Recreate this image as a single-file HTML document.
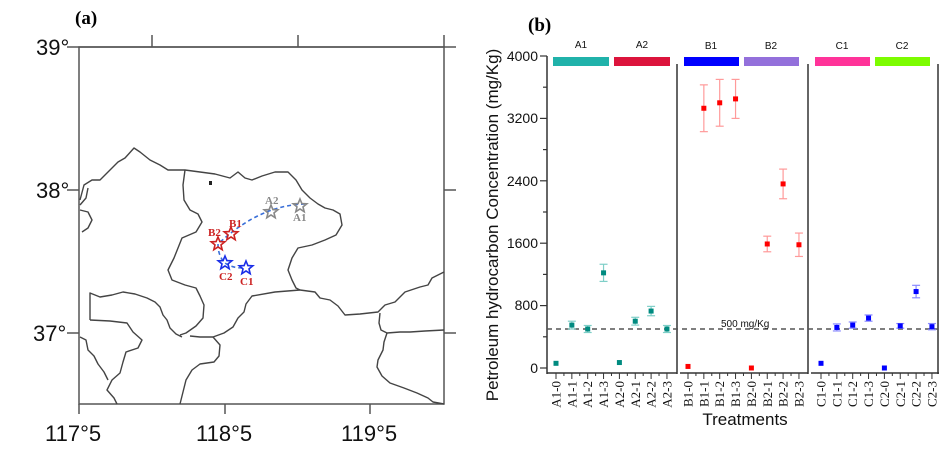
<!DOCTYPE html>
<html><head><meta charset="utf-8"><style>
html,body{margin:0;padding:0;background:#fff}
svg{display:block}
</style></head><body>
<svg width="945" height="456" viewBox="0 0 945 456" xmlns="http://www.w3.org/2000/svg" font-family="Liberation Sans, sans-serif">
<rect width="945" height="456" fill="#fff"/>
<!-- ===== Panel (a) ===== -->
<text x="75" y="24" font-family="Liberation Serif, serif" font-weight="bold" font-size="19">(a)</text>
<g stroke="#555" stroke-width="1.5" fill="none">
<rect x="79" y="47" width="365" height="357"/>
<line x1="67" y1="47" x2="456" y2="47"/>
<line x1="67" y1="190" x2="79" y2="190"/><line x1="444" y1="190" x2="456" y2="190"/>
<line x1="67" y1="333" x2="79" y2="333"/><line x1="444" y1="333" x2="456" y2="333"/>
<line x1="152" y1="35" x2="152" y2="47"/><line x1="298" y1="35" x2="298" y2="47"/><line x1="444" y1="35" x2="444" y2="47"/>
<line x1="79" y1="404" x2="79" y2="414"/><line x1="225" y1="404" x2="225" y2="414"/><line x1="370" y1="404" x2="370" y2="414"/>
</g>
<g fill="#111" font-size="22">
<text x="36" y="55">39°</text><text x="36" y="198">38°</text><text x="33" y="341">37°</text>
<text x="45" y="441">117°5</text><text x="196" y="441">118°5</text><text x="341" y="441">119°5</text>
</g>
<g stroke="#444" stroke-width="1.4" fill="none" stroke-linejoin="round">
<polyline points="80,200 84,185 92,180 100,180 108,172 118,162 125,158 134,148 140,152 150,160 160,165 168,170 176,170 185,170 200,172 215,174 230,178 238,172 245,178 252,180 262,176 275,172 288,172 296,180 302,190 310,198 318,204 325,208 333,210 340,214 342,225 336,235 325,240 312,245 298,248 292,258 288,270 292,280 296,288 300,290 315,292 320,298 330,300 338,306 345,315 360,314 378,312 385,305 395,302 405,292 420,287 428,285 432,278 438,275 444,272"/>
<polyline points="185,170 183,185 184,200 190,210 198,214 202,222 196,232 182,238 178,248 174,258 168,270 172,280 185,285 196,288 200,296 204,305 203,318 196,326 186,333 180,335"/>
<polyline points="300,290 275,292 252,296 246,304 244,312 238,318 233,327 224,333 213,337 200,337 190,336"/>
<polyline points="80,205 86,198 88,188"/>
<polyline points="80,210 88,212 92,220 88,228 82,232"/>
<polyline points="90,320 90,293 100,297 112,295 123,292 135,294 147,298 155,302 160,307 163,315 167,320 170,328 176,334 182,337"/>
<polyline points="90,320 110,321 127,323 133,332 142,340 138,348 126,352 123,362 120,373 112,380 107,390 114,398 117,404"/>
<polyline points="80,337 86,340 88,350 94,356 98,364 104,372 108,380"/>
<polyline points="213,337 220,345 219,356 214,362 200,364 192,370 186,380 183,392 180,404"/>
<polyline points="380,313 379,323 381,330 387,333 400,332 410,332 425,331 444,330"/>
<polyline points="387,333 384,342 383,350 378,360 377,367 382,376 390,383 404,388 417,393 428,398 433,402 444,404"/>
</g>
<rect x="209" y="181" width="3" height="4" fill="#222"/>
<g stroke="#3a6fd8" stroke-width="1.6" fill="none" stroke-dasharray="4,3">
<path d="M305,204 Q260,205 218,244"/>
<path d="M218,244 Q218,256 225,263 Q232,268 243,268"/>
</g>
<defs>
<path id="st" d="M0,-7 L1.9,-2.4 L6.8,-2.2 L3,0.9 L4.2,5.7 L0,3 L-4.2,5.7 L-3,0.9 L-6.8,-2.2 L-1.9,-2.4 Z"/>
</defs>
<g fill="none" stroke-width="1.6">
<use href="#st" x="271" y="212" stroke="#888"/>
<use href="#st" x="300" y="206" stroke="#888"/>
<use href="#st" x="231" y="234" stroke="#cc2222"/>
<use href="#st" x="218" y="244" stroke="#cc2222"/>
<use href="#st" x="225" y="263" stroke="#1a2ee8"/>
<use href="#st" x="246" y="268" stroke="#1a2ee8"/>
</g>
<g font-family="Liberation Serif, serif" font-weight="bold" font-size="11">
<text x="265" y="204" fill="#888">A2</text><text x="293" y="221" fill="#888">A1</text>
<text x="229" y="227" fill="#cc2222">B1</text><text x="208" y="236" fill="#cc2222">B2</text>
<text x="219" y="280" fill="#cc2222">C2</text><text x="240" y="285" fill="#cc2222">C1</text>
</g>
<!-- ===== Panel (b) ===== -->
<text x="528" y="31" font-family="Liberation Serif, serif" font-weight="bold" font-size="19">(b)</text>
<g stroke="#333" stroke-width="1.5" fill="none">
<line x1="547" y1="56" x2="547" y2="374"/>
<line x1="547" y1="373" x2="677" y2="373"/>
<line x1="680" y1="373" x2="808" y2="373"/>
<line x1="811" y1="373" x2="939" y2="373"/>
<line x1="677" y1="64" x2="677" y2="374"/>
<line x1="808" y1="64" x2="808" y2="374"/>
<line x1="938" y1="64" x2="938" y2="374"/>
</g>
<g stroke="#333" stroke-width="1.2">
<line x1="540" y1="56" x2="547" y2="56"/><line x1="540" y1="118.4" x2="547" y2="118.4"/><line x1="540" y1="180.8" x2="547" y2="180.8"/><line x1="540" y1="243.2" x2="547" y2="243.2"/><line x1="540" y1="305.6" x2="547" y2="305.6"/><line x1="540" y1="368" x2="547" y2="368"/>
<line x1="543" y1="87.2" x2="547" y2="87.2"/><line x1="543" y1="149.6" x2="547" y2="149.6"/><line x1="543" y1="212" x2="547" y2="212"/><line x1="543" y1="274.4" x2="547" y2="274.4"/><line x1="543" y1="336.8" x2="547" y2="336.8"/>
</g>
<g font-size="14" fill="#111" text-anchor="end">
<text x="538" y="61">4000</text><text x="538" y="123">3200</text><text x="538" y="186">2400</text><text x="538" y="248">1600</text><text x="538" y="310">800</text><text x="538" y="373">0</text>
</g>
<text transform="translate(498,225) rotate(-90)" font-size="17" text-anchor="middle" fill="#111">Petroleum hydrocarbon Concentration (mg/Kg)</text>
<text x="745" y="425" font-size="17" text-anchor="middle" fill="#111">Treatments</text>
<rect x="553" y="57" width="56" height="9" fill="#20b2aa"/>
<rect x="614" y="57" width="56" height="9" fill="#dc143c"/>
<rect x="684" y="57" width="55" height="9" fill="#0000ff"/>
<rect x="744" y="57" width="55" height="9" fill="#9370db"/>
<rect x="815" y="57" width="55" height="9" fill="#ff3399"/>
<rect x="875" y="57" width="55" height="9" fill="#7cfc00"/>
<g font-size="10" fill="#111" text-anchor="middle">
<text x="581" y="48">A1</text><text x="642" y="48">A2</text><text x="711" y="49">B1</text><text x="771" y="49">B2</text><text x="842" y="49">C1</text><text x="902" y="49">C2</text>
</g>
<line x1="547" y1="329" x2="938" y2="329" stroke="#555" stroke-width="1.5" stroke-dasharray="5,4"/>
<text x="721" y="327" font-size="10" fill="#111">500 mg/Kg</text>
<g id="pts"></g>
<g id="xt" stroke="#333" stroke-width="1"></g>
<g id="xl" font-family="Liberation Serif, serif" font-size="13" fill="#111"></g>
<script>
(function(){
var ns="http://www.w3.org/2000/svg";
function el(p,t,a,txt){var e=document.createElementNS(ns,t);for(var k in a)e.setAttribute(k,a[k]);if(txt)e.textContent=txt;p.appendChild(e);}
var groups=[
{x0:556,names:["A1-0","A1-1","A1-2","A1-3","A2-0","A2-1","A2-2","A2-3"],v:[60,550,500,1220,70,600,730,500],e:[0,50,45,110,0,50,60,45],c:"#008b80",ec:"#7fcfc8"},
{x0:688,names:["B1-0","B1-1","B1-2","B1-3","B2-0","B2-1","B2-2","B2-3"],v:[20,3330,3400,3450,0,1590,2360,1580],e:[0,300,300,250,0,100,190,150],c:"#ff0000",ec:"#ff9a9a"},
{x0:821,names:["C1-0","C1-1","C1-2","C1-3","C2-0","C2-1","C2-2","C2-3"],v:[60,520,550,640,0,540,980,530],e:[0,45,40,40,0,30,80,40],c:"#0000ff",ec:"#8a8aff"}];
var sp=15.85,pts=document.getElementById("pts"),xt=document.getElementById("xt"),xl=document.getElementById("xl");
function Y(v){return 368-v*0.078;}
groups.forEach(function(g){
 for(var i=0;i<8;i++){
  var x=g.x0+i*sp,y=Y(g.v[i]);
  if(g.e[i]>0){var y1=Y(g.v[i]+g.e[i]),y2=Y(g.v[i]-g.e[i]);
   el(pts,"line",{x1:x,y1:y1,x2:x,y2:y2,stroke:g.ec,"stroke-width":1.2});
   el(pts,"line",{x1:x-4,y1:y1,x2:x+4,y2:y1,stroke:g.ec,"stroke-width":1.2});
   el(pts,"line",{x1:x-4,y1:y2,x2:x+4,y2:y2,stroke:g.ec,"stroke-width":1.2});}
  el(pts,"rect",{x:x-2.5,y:y-2.5,width:5,height:5,fill:g.c});
  el(xt,"line",{x1:x,y1:373,x2:x,y2:379});
  if(i<7)el(xt,"line",{x1:x+sp/2,y1:373,x2:x+sp/2,y2:376});
  el(xl,"text",{transform:"translate("+(x+4.5)+",381) rotate(-90)","text-anchor":"end"},g.names[i]);
 }
});
})();
</script>
</svg>
</body></html>
